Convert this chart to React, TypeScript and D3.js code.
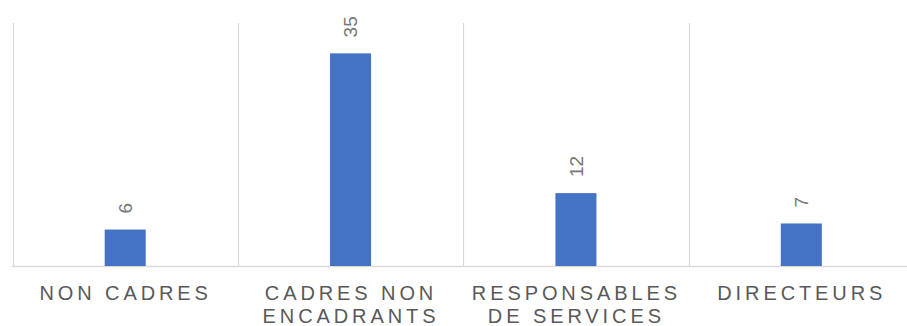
import React from "react";
import * as d3 from "d3";

const categories: string[][] = [
  ["NON CADRES"],
  ["CADRES NON", "ENCADRANTS"],
  ["RESPONSABLES", "DE SERVICES"],
  ["DIRECTEURS"],
];
const values: number[] = [6, 35, 12, 7];
const keys: string[] = ["nc", "cne", "rs", "dir"];
const yMax = 40;

const W = 907;
const H = 326;

export default function App() {
  const x = d3.scaleBand<string>().domain(keys).range([12.5, 914]).padding(0);
  const y = d3.scaleLinear().domain([0, yMax]).range([266, 23]);
  const bw = x.bandwidth() * 0.182;
  const ls = 3.9;
  return (
    <svg
      width={W}
      height={H}
      style={{ position: "absolute", left: 0, top: 0, fontFamily: "Arial, 'Liberation Sans', sans-serif" }}
    >
      <rect width={W} height={H} fill="#ffffff" />
      {keys.map((k) => (
        <line
          key={"g" + k}
          x1={Math.round(x(k)!) + 0.5}
          x2={Math.round(x(k)!) + 0.5}
          y1={y(yMax)}
          y2={y(0)}
          stroke="#d9d9d9"
          strokeWidth={1.2}
        />
      ))}
      <line x1={12} x2={W} y1={y(0) + 0.5} y2={y(0) + 0.5} stroke="#d9d9d9" strokeWidth={1.3} />
      {keys.map((k, i) => {
        const cx = x(k)! + x.bandwidth() / 2;
        return (
          <g key={"b" + k}>
            <rect x={cx - bw / 2} y={y(values[i])} width={bw} height={y(0) - y(values[i])} fill="#4472c4" />
            <text
              transform={`translate(${cx},${y(values[i]) - 16}) rotate(-90)`}
              textAnchor="start"
              dy="0.35em"
              fontSize={19}
              fill="#767676"
            >
              {values[i]}
            </text>
            {categories[i].map((line, j) => (
              <text
                key={j}
                x={cx + ls / 2 - 1.5}
                y={300 + j * 23}
                textAnchor="middle"
                fontSize={20}
                letterSpacing={ls}
                fill="#595959"
              >
                {line}
              </text>
            ))}
          </g>
        );
      })}
    </svg>
  );
}
